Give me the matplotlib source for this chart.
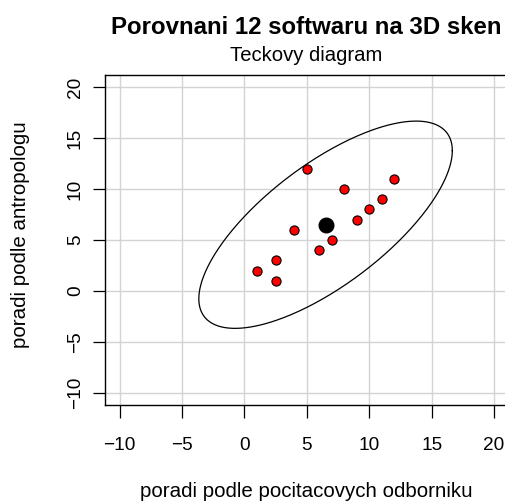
import numpy as np
import matplotlib
matplotlib.use("Agg")
import matplotlib.pyplot as plt

plt.rcParams['font.family'] = ['Liberation Sans', 'DejaVu Sans']

# data
comp_rank = [5, 8, 12, 11, 10, 9, 4, 7, 6, 2.5, 1, 2.5]
anthro_rank = [12, 10, 11, 9, 8, 7, 6, 5, 4, 3, 2, 1]
tick_vals = [-10, -5, 0, 5, 10, 15, 20]
title = "Porovnani 12 softwaru na 3D sken"
subtitle = "Teckovy diagram"
xlabel = "poradi podle pocitacovych odborniku"
ylabel = "poradi podle antropologu"
# 95% data ellipse radius: sqrt(2 * F(0.95; 2, n-1)), n = 12
f_quantile = 3.982298
radius = np.sqrt(2 * f_quantile)

x = np.array(comp_rank, dtype=float)
y = np.array(anthro_rank, dtype=float)
center = np.array([x.mean(), y.mean()])
cov = np.cov(np.vstack([x, y]))
chol = np.linalg.cholesky(cov)
t = np.linspace(0, 2 * np.pi, 400)
circ = np.vstack([np.cos(t), np.sin(t)])
ell = center[:, None] + radius * (chol @ circ)

W, H = 506, 501
fig = plt.figure(figsize=(W / 100, H / 100), dpi=100)
left, right, top, bottom = 104.7, 509.0, 75.0, 405.0
ax = fig.add_axes([left / W, 1 - bottom / H, (right - left) / W, (bottom - top) / H])

ax.set_xlim(-11.2, 21.2)
ax.set_ylim(-11.2, 21.2)
ax.set_xticks(tick_vals)
ax.set_yticks(tick_vals)
ax.set_xticklabels([str(v).replace('-', '\u2212') for v in tick_vals])
ax.set_yticklabels([str(v).replace('-', '\u2212') for v in tick_vals], rotation=90, va='center')
ax.grid(True, color='#D3D3D3', linewidth=1.0)
ax.set_axisbelow(True)
for s in ax.spines.values():
    s.set_linewidth(1.0)
    s.set_color('black')
ax.tick_params(direction='out', length=9, width=0.9, labelsize=13.7, pad=14)
ax.tick_params(axis='y', pad=6)

ax.plot(ell[0], ell[1], color='black', linewidth=0.9)
ax.scatter(x, y, s=6.6 ** 2, c='red', edgecolors='black', linewidths=0.8, zorder=3)
ax.scatter([center[0]], [center[1]], s=10.5 ** 2, c='black', zorder=4)

cx = 306.5 / W
fig.text(cx, 1 - 33.5 / H, title, ha='center', va='baseline', fontsize=17.3, fontweight='bold')
fig.text(cx, 1 - 61 / H, subtitle, ha='center', va='baseline', fontsize=14.6)
fig.text(cx, 1 - 497 / H, xlabel, ha='center', va='baseline', fontsize=14.8)
fig.text(21 / W, 1 - 235 / H, ylabel, ha='center', va='center', fontsize=14.8, rotation=90)

fig.savefig("out.png", dpi=100)
